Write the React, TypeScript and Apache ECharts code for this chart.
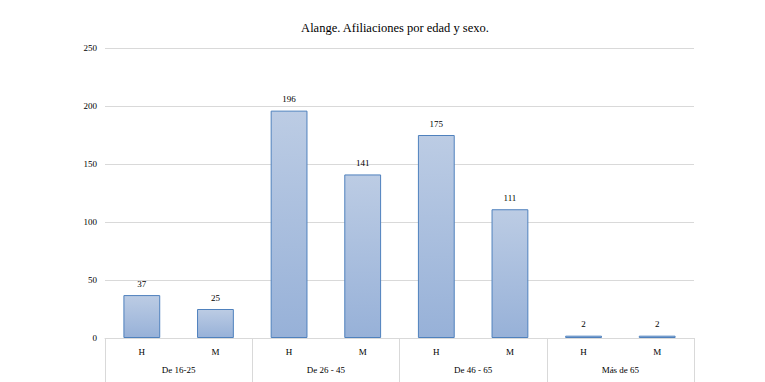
import React, { useEffect, useRef } from "react";
import * as echarts from "echarts";

const sexCategories = ["H", "M", "H", "M", "H", "M", "H", "M"];
const ageGroups = ["De 16-25", "De 26 - 45", "De 46 - 65", "Más de 65"];
const values = [37, 25, 196, 141, 175, 111, 2, 2];
const titleText = "Alange. Afiliaciones por edad y sexo.";

const FONT = "Liberation Serif";

export default function App() {
  const ref = useRef<HTMLDivElement>(null);
  useEffect(() => {
    document.body.style.margin = "0";
    const chart = echarts.init(ref.current!, null, { renderer: "svg" });
    chart.setOption({
      animation: false,
      backgroundColor: "#ffffff",
      textStyle: { fontFamily: FONT },
      title: {
        text: titleText,
        left: 390,
        top: 16,
        textAlign: "center",
        textStyle: { fontFamily: FONT, fontSize: 12.5, fontWeight: "normal", color: "#000000" },
      },
      grid: { left: 105, right: 71, top: 48, bottom: 44, containLabel: false },
      xAxis: [
        {
          type: "category",
          data: sexCategories,
          position: "bottom",
          axisLine: { show: true, lineStyle: { color: "#d9d9d9", width: 1 } },
          axisTick: { show: false },
          axisLabel: { interval: 0, margin: 9, fontFamily: FONT, fontSize: 9, color: "#000000" },
        },
        {
          type: "category",
          data: ageGroups,
          position: "bottom",
          axisLine: { show: false },
          axisTick: { show: true, length: 44, interval: 0, lineStyle: { color: "#d9d9d9", width: 1 } },
          axisLabel: { interval: 0, margin: 27, fontFamily: FONT, fontSize: 9, color: "#000000" },
        },
      ],
      yAxis: {
        type: "value",
        min: 0,
        max: 250,
        interval: 50,
        axisLine: { show: false },
        axisTick: { show: false },
        axisLabel: { margin: 8, fontFamily: FONT, fontSize: 9, color: "#000000" },
        splitLine: { show: true, lineStyle: { color: "#d9d9d9", width: 1 } },
      },
      series: [
        {
          type: "bar",
          xAxisIndex: 0,
          data: values,
          barWidth: "50%",
          itemStyle: {
            color: new echarts.graphic.LinearGradient(0, 0, 0, 1, [
              { offset: 0, color: "#bccce4" },
              { offset: 1, color: "#97b1d8" },
            ]),
            borderColor: "#4f81bd",
            borderWidth: 1,
          },
          label: {
            show: true,
            position: "top",
            distance: 7,
            fontFamily: FONT,
            fontSize: 9,
            color: "#000000",
          },
        },
      ],
    });
    return () => chart.dispose();
  }, []);
  return <div ref={ref} style={{ width: 765, height: 382 }} />;
}
